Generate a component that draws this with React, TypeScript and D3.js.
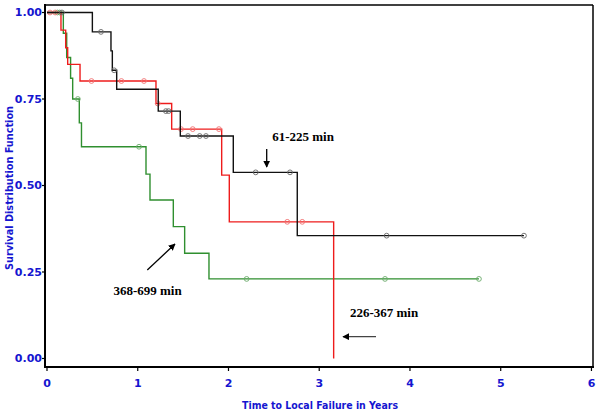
import React from "react";
import * as d3 from "d3";

// ---- data ----
const xTicks = [0, 1, 2, 3, 4, 5, 6];
const yTicks = [0, 0.25, 0.5, 0.75, 1.0];

// 61-225 min (black)
const blackTimes = [0, 0.5, 0.705, 0.72, 0.768, 1.226, 1.469, 2.053, 2.758];
const blackSurv = [1, 0.944, 0.889, 0.833, 0.778, 0.715, 0.643, 0.538, 0.355];
const blackEnd = 5.256;
const blackCensor = [0.165, 0.595, 0.74, 1.31, 1.34, 1.554, 1.683, 1.752, 2.3, 2.678, 3.743, 5.256];

// 226-367 min (red)
const redTimes = [0, 0.154, 0.206, 0.228, 0.364, 1.201, 1.374, 1.925, 2.009, 3.159];
const redSurv = [1, 0.949, 0.898, 0.85, 0.802, 0.737, 0.663, 0.53, 0.395, 0];
const redEnd = 3.159;
const redCensor = [0.033, 0.09, 0.49, 0.82, 1.069, 1.22, 1.477, 1.606, 1.895, 2.648, 2.813];

// 368-699 min (green)
const greenTimes = [0, 0.18, 0.217, 0.26, 0.283, 0.356, 0.38, 1.091, 1.135, 1.392, 1.517, 1.785];
const greenSurv = [1, 0.94, 0.87, 0.81, 0.75, 0.681, 0.612, 0.533, 0.458, 0.381, 0.304, 0.23];
const greenEnd = 4.76;
const greenCensor = [0.115, 0.14, 0.34, 1.014, 2.2, 3.725, 4.76];

const labels = ["61-225 min", "226-367 min", "368-699 min"];

const W = 600, H = 414;
const x = d3.scaleLinear().domain([-0.022, 6.017]).range([45, 593]);
const y = d3.scaleLinear().domain([-0.0246, 1.0217]).range([367, 5]);

type Curve = { times: number[]; surv: number[]; end: number; censor: number[]; color: string; mark: string };
const curves: Curve[] = [
  { times: greenTimes, surv: greenSurv, end: greenEnd, censor: greenCensor, color: "#2f8f2f", mark: "#6aaa6a" },
  { times: redTimes, surv: redSurv, end: redEnd, censor: redCensor, color: "#ee1c1c", mark: "#f07070" },
  { times: blackTimes, surv: blackSurv, end: blackEnd, censor: blackCensor, color: "#111111", mark: "#666666" },
];

const stepLine = d3
  .line<[number, number]>()
  .x((d) => x(d[0]))
  .y((d) => y(d[1]))
  .curve(d3.curveStepAfter);

function survAt(c: Curve, t: number) {
  let s = c.surv[0];
  for (let i = 0; i < c.times.length; i++) if (c.times[i] <= t) s = c.surv[i];
  return s;
}

const blue = "#1515d0";
const tickFont = "'DejaVu Sans', Verdana, sans-serif";

export default function App() {
  return (
    <svg width={W} height={H} style={{ position: "absolute", left: 0, top: 0, background: "#fff" }}>
      <defs>
        <marker id="ah" viewBox="0 0 10 10" refX="9" refY="5" markerWidth="7" markerHeight="7" markerUnits="userSpaceOnUse" orient="auto">
          <path d="M0,0 L10,5 L0,10 z" fill="#000" />
        </marker>
      </defs>
      {/* frame */}
      <line x1={45} x2={593} y1={5} y2={5} stroke="#000" strokeWidth={1.5} />
      <line x1={593} x2={593} y1={5} y2={367} stroke="#000" strokeWidth={1.5} />
      <line x1={45} x2={45} y1={4} y2={368} stroke="#000" strokeWidth={2} />
      <line x1={44} x2={594} y1={367} y2={367} stroke="#000" strokeWidth={2} />
      {/* y ticks */}
      {yTicks.map((v) => (
        <g key={"y" + v}>
          <line x1={42} x2={45} y1={y(v)} y2={y(v)} stroke="#000" strokeWidth={1.2} />
          <text x={42} y={y(v)} dy="0.36em" textAnchor="end" fill={blue} fontFamily={tickFont} fontWeight="bold" fontSize={11}>
            {v.toFixed(2)}
          </text>
        </g>
      ))}
      {/* x ticks */}
      {xTicks.map((v) => (
        <g key={"x" + v}>
          <line x1={x(v)} x2={x(v)} y1={367} y2={371} stroke="#000" strokeWidth={1.2} />
          <text x={x(v)} y={387} textAnchor="middle" fill={blue} fontFamily={tickFont} fontWeight="bold" fontSize={11}>
            {v}
          </text>
        </g>
      ))}
      {/* axis titles */}
      <text x={320} y={409} textAnchor="middle" fill={blue} fontFamily={tickFont} fontWeight="bold" fontSize={10.5} textLength={156} lengthAdjust="spacingAndGlyphs">
        Time to Local Failure in Years
      </text>
      <text transform="translate(13,188) rotate(-90)" textAnchor="middle" fill={blue} fontFamily={tickFont} fontWeight="bold" fontSize={10.5} textLength={164} lengthAdjust="spacingAndGlyphs">
        Survival Distribution Function
      </text>
      {/* curves */}
      {curves.map((c, i) => {
        const pts: [number, number][] = c.times.map((t, j) => [t, c.surv[j]] as [number, number]);
        if (c.end > c.times[c.times.length - 1]) pts.push([c.end, c.surv[c.surv.length - 1]]);
        return (
          <g key={"c" + i}>
            <path d={stepLine(pts) || ""} fill="none" stroke={c.color} strokeWidth={1.4} />
            {c.censor.map((t, k) => (
              <circle key={k} cx={x(t)} cy={y(survAt(c, t))} r={2.4} fill="none" stroke={c.mark} strokeWidth={0.9} />
            ))}
          </g>
        );
      })}
      {/* annotations */}
      <text x={303} y={141} textAnchor="middle" fontFamily="'Liberation Serif', 'Times New Roman', serif" fontWeight="bold" fontSize={13}>
        {labels[0]}
      </text>
      <line x1={266.7} x2={266.7} y1={149} y2={167} stroke="#000" strokeWidth={1.3} markerEnd="url(#ah)" />
      <text x={384} y={317} textAnchor="middle" fontFamily="'Liberation Serif', 'Times New Roman', serif" fontWeight="bold" fontSize={13}>
        {labels[1]}
      </text>
      <line x1={376} x2={343} y1={336.7} y2={336.7} stroke="#444" strokeWidth={1.3} markerEnd="url(#ah)" />
      <text x={147.5} y={295} textAnchor="middle" fontFamily="'Liberation Serif', 'Times New Roman', serif" fontWeight="bold" fontSize={13}>
        {labels[2]}
      </text>
      <line x1={147.3} x2={175} y1={270} y2={244} stroke="#000" strokeWidth={1.3} markerEnd="url(#ah)" />
    </svg>
  );
}
